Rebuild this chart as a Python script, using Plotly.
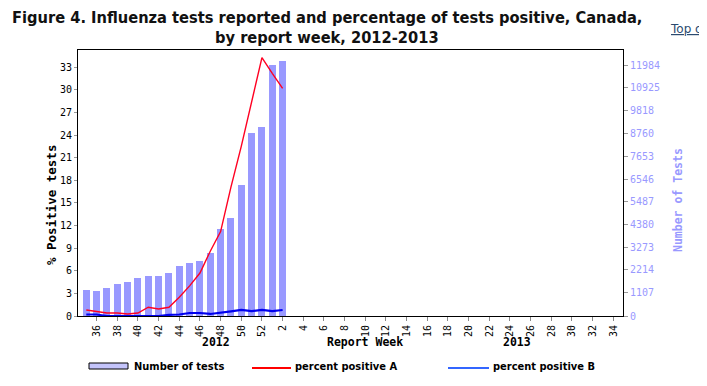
import plotly.graph_objects as go

# ---- data ----
weeks = ["35", "36", "37", "38", "39", "40", "41", "42", "43", "44", "45", "46",
         "47", "48", "49", "50", "51", "52", "1", "2"]
tests = [1246, 1199, 1342, 1518, 1630, 1806, 1918, 1918, 2061, 2397, 2541, 2637,
         3020, 4155, 4698, 6280, 8773, 9061, 12033, 12209]
pct_a = [0.8, 0.62, 0.4, 0.4, 0.27, 0.4, 1.16, 0.93, 1.16, 2.5, 4.0, 5.7,
         8.6, 11.2, 17.1, 22.5, 28.2, 34.3, 32.2, 30.2]
pct_b = [0.2, 0.2, 0.0, 0.0, 0.1, 0.0, 0.1, 0.0, 0.15, 0.2, 0.4, 0.4,
         0.27, 0.4, 0.62, 0.8, 0.66, 0.8, 0.66, 0.8]
season_weeks = [str(w) for w in list(range(35, 53)) + list(range(1, 35))]
x_ticks = season_weeks[1::2]
left_ticks = list(range(0, 34, 3))
right_ticks = [0, 1107, 2214, 3273, 4380, 5487, 6546, 7653, 8760, 9818, 10925, 11984]

# page offset (default body margin of the html page)
OFF = 8
PAGE_W, PAGE_H = 707, 386
W, H = PAGE_W - OFF, PAGE_H - OFF
# plot area in page pixels
PL, PR, PT, PB = 78, 623, 50, 316
ML, MR, MT, MB = PL - OFF, W - (PR - OFF), PT - OFF, H - (PB - OFF)
PW, PH = W - ML - MR, H - MT - MB

BAR = "#9999ff"
RED = "#ff0022"
BLUE = "#0000ee"
MONO = "DejaVu Sans Mono"
SANS_B = "DejaVu Sans Condensed"


def px(x):
    return (x - OFF - ML) / PW


def py(y):
    return (H - MB - (y - OFF)) / PH


fig = go.Figure()
fig.add_trace(go.Bar(x=weeks, y=tests, name="Number of tests", marker_color=BAR,
                     marker_line_width=0, width=0.68, yaxis="y"))
fig.add_trace(go.Scatter(x=weeks, y=pct_a, name="percent positive A", mode="lines",
                         line=dict(color=RED, width=1.4), yaxis="y2"))
fig.add_trace(go.Scatter(x=weeks, y=pct_b, name="percent positive B", mode="lines",
                         line=dict(color=BLUE, width=2.2), yaxis="y2"))


def note(text, x, y, font, angle=0, xa="center", pad=1):
    return dict(text=text, x=px(x), y=py(y), xref="paper", yref="paper", showarrow=False,
                xanchor=xa, yanchor="middle", textangle=angle, font=font, borderpad=pad)


title_font = dict(family=SANS_B, size=16.3, color="#111", weight="bold")
axis_font = dict(family=MONO, size=11.5, color="black", weight="bold")
leg_font = dict(family=SANS_B, size=11, color="black", weight="bold")

ann = [
    note("Figure 4. Influenza tests reported and percentage of tests positive, Canada,", 327, 17.9, title_font, pad=0),
    note("by report week, 2012-2013", 327, 37.2, title_font, pad=0),
    note("<u>Top of</u>", 668, 29, dict(family="DejaVu Sans", size=12, color="#2b4a6f"), xa="left"),
    note("% Positive tests", 52, 205, dict(family=MONO, size=12.5, color="black", weight="bold"), angle=-90),
    note("Number of Tests", 678, 200, dict(family=MONO, size=11.5, color=BAR, weight="bold"), angle=-90),
    note("2012", 215.5, 342, axis_font),
    note("Report Week", 365.5, 342, axis_font),
    note("2013", 517, 342, axis_font),
]
for label, xt in [("Number of tests", 132), ("percent positive A", 293), ("percent positive B", 491)]:
    ann.append(note(label, xt, 366, leg_font, xa="left"))

shapes = [
    dict(type="rect", xref="paper", yref="paper", x0=px(89), x1=px(128), y0=py(363), y1=py(369),
         fillcolor="#c4c4fb", line=dict(color="black", width=1)),
    dict(type="line", xref="paper", yref="paper", x0=px(252), x1=px(291), y0=py(368), y1=py(368),
         line=dict(color="#ff0000", width=2)),
    dict(type="line", xref="paper", yref="paper", x0=px(448), x1=px(489), y0=py(368), y1=py(368),
         line=dict(color="#3366ff", width=2)),
]

fig.update_layout(
    width=W, height=H, margin=dict(l=ML, r=MR, t=MT, b=MB, autoexpand=False),
    paper_bgcolor="white", plot_bgcolor="white", showlegend=False,
    annotations=ann, shapes=shapes, bargap=0,
    xaxis=dict(type="category", categoryorder="array", categoryarray=season_weeks,
               range=[-0.8, 51.94], tickmode="array", tickvals=x_ticks, ticktext=x_ticks,
               tickangle=-90, ticks="outside", ticklen=4, tickcolor="#888",
               tickfont=dict(family=MONO, size=10, color="black"),
               showline=True, linecolor="black", linewidth=1, mirror=True,
               showgrid=False, zeroline=False, automargin=False),
    yaxis=dict(side="right", range=[0, 12737], tickmode="array", tickvals=right_ticks,
               ticktext=[str(v) for v in right_ticks], ticks="outside", ticklen=4, tickcolor="#999",
               tickfont=dict(family=MONO, size=10, color=BAR), showgrid=False, zeroline=False,
               showline=False, automargin=False),
    yaxis2=dict(side="left", overlaying="y", range=[0, 35.3], tickmode="array",
                tickvals=left_ticks, ticks="outside", ticklen=3, tickcolor="#999",
                tickfont=dict(family=MONO, size=10, color="black"), showgrid=False,
                zeroline=False, showline=True, linecolor="black", linewidth=1, mirror=True,
                automargin=False),
)

fig.write_html("out.html")
